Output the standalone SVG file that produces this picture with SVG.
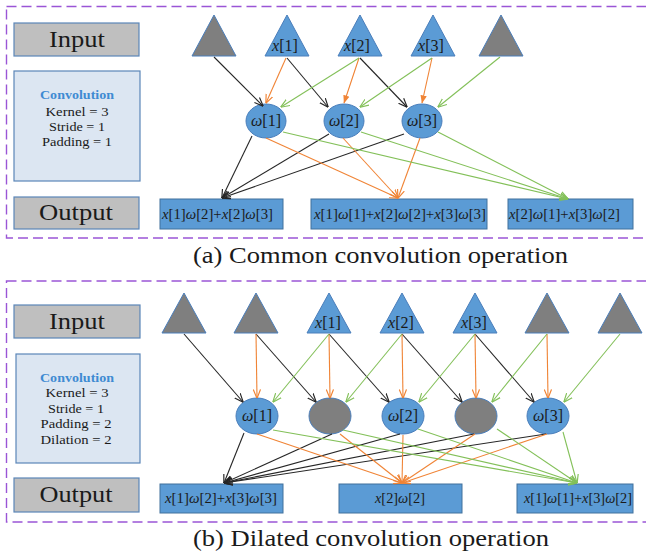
<svg xmlns="http://www.w3.org/2000/svg" width="646" height="554" viewBox="0 0 646 554">
  <style>
    text { font-family: "Liberation Serif", "Times New Roman", serif; fill: #1a1a1a; }
    .frame { fill: none; stroke: #9a55d6; stroke-width: 1.4; stroke-dasharray: 10 5; }
    .label-box { fill: #bfbfbf; stroke: #5b86b8; stroke-width: 1.2; }
    .param-box { fill: #dce6f2; stroke: #5b86b8; stroke-width: 1.2; }
    .big { font-size: 23px; }
    .param { font-size: 13.5px; }
    .param-title { font-size: 13.5px; font-weight: bold; fill: #3f8bd2; }
    .tri-x { fill: #5b9bd5; stroke: #4a7ebb; stroke-width: 1; }
    .tri-pad { fill: #7f7f7f; stroke: #4a7ebb; stroke-width: 1; }
    .node-w { fill: #5b9bd5; stroke: #4a7ebb; stroke-width: 1; }
    .node-pad { fill: #7f7f7f; stroke: #4a7ebb; stroke-width: 1; }
    .out { fill: #5b9bd5; stroke: #41719c; stroke-width: 1; }
    .sym { font-size: 16px; }
    .expr { font-size: 14.5px; }
    .i { font-style: italic; }
    .caption { font-size: 23px; }
    .k { stroke: #262626; stroke-width: 1.1; fill: none; marker-end: url(#ak); }
    .o { stroke: #f08436; stroke-width: 1.1; fill: none; marker-end: url(#ao); }
    .of { stroke: #f08436; stroke-width: 1.1; fill: none; marker-end: url(#aof); }
    .g { stroke: #83c059; stroke-width: 1.1; fill: none; marker-end: url(#ag); }
  </style>
  <defs>
    <marker id="ak" viewBox="0 0 10 10" refX="9.5" refY="5" markerWidth="9" markerHeight="9" markerUnits="userSpaceOnUse" orient="auto">
      <path d="M0,1 L10,5 L0,9" fill="none" stroke="#262626" stroke-width="1.3"/>
    </marker>
    <marker id="ao" viewBox="0 0 10 10" refX="9.5" refY="5" markerWidth="9" markerHeight="9" markerUnits="userSpaceOnUse" orient="auto">
      <path d="M0,1 L10,5 L0,9" fill="none" stroke="#f08436" stroke-width="1.3"/>
    </marker>
    <marker id="aof" viewBox="0 0 10 10" refX="9.5" refY="5" markerWidth="8" markerHeight="8" markerUnits="userSpaceOnUse" orient="auto">
      <path d="M0,1 L10,5 L0,9 Z" fill="#f08436"/>
    </marker>
    <marker id="ag" viewBox="0 0 10 10" refX="9.5" refY="5" markerWidth="9" markerHeight="9" markerUnits="userSpaceOnUse" orient="auto">
      <path d="M0,1 L10,5 L0,9" fill="none" stroke="#83c059" stroke-width="1.3"/>
    </marker>
  </defs>

  <!-- ===== (a) common convolution ===== -->
  <rect class="frame" x="6.5" y="6.5" width="645" height="231.5"/>

  <g id="a-input-label">
    <rect class="label-box" x="14" y="23" width="125" height="33"/>
    <text class="big" x="77" y="47" text-anchor="middle" textLength="56" lengthAdjust="spacingAndGlyphs">Input</text>
  </g>
  <g id="a-params">
    <rect class="param-box" x="14" y="71" width="126" height="110"/>
    <text class="param-title" x="77" y="99" text-anchor="middle" textLength="74" lengthAdjust="spacingAndGlyphs">Convolution</text>
    <text class="param" x="77" y="116" text-anchor="middle" textLength="63" lengthAdjust="spacingAndGlyphs">Kernel = 3</text>
    <text class="param" x="77" y="131" text-anchor="middle" textLength="56" lengthAdjust="spacingAndGlyphs">Stride = 1</text>
    <text class="param" x="77" y="146" text-anchor="middle" textLength="70" lengthAdjust="spacingAndGlyphs">Padding = 1</text>
  </g>
  <g id="a-output-label">
    <rect class="label-box" x="14" y="197" width="125" height="32"/>
    <text class="big" x="76" y="220" text-anchor="middle" textLength="74" lengthAdjust="spacingAndGlyphs">Output</text>
  </g>

  <!-- input cells -->
  <g id="a-pad-left"><polygon class="tri-pad" points="214,15 192,56 236,56"/></g>
  <g id="a-x1"><polygon class="tri-x" points="287,15 265,56 309,56"/>
    <text class="sym" x="285" y="51" text-anchor="middle"><tspan class="i">x</tspan>[1]</text></g>
  <g id="a-x2"><polygon class="tri-x" points="360,15 338,56 382,56"/>
    <text class="sym" x="357" y="51" text-anchor="middle"><tspan class="i">x</tspan>[2]</text></g>
  <g id="a-x3"><polygon class="tri-x" points="433,15 411,56 455,56"/>
    <text class="sym" x="431" y="51" text-anchor="middle"><tspan class="i">x</tspan>[3]</text></g>
  <g id="a-pad-right"><polygon class="tri-pad" points="501,15 479,56 523,56"/></g>

  <!-- kernel weights -->
  <g id="a-w1"><ellipse class="node-w" cx="266" cy="121" rx="20" ry="17"/>
    <text class="sym" x="266" y="126" text-anchor="middle"><tspan class="i">ω</tspan>[1]</text></g>
  <g id="a-w2"><ellipse class="node-w" cx="344" cy="121" rx="20" ry="17"/>
    <text class="sym" x="344" y="126" text-anchor="middle"><tspan class="i">ω</tspan>[2]</text></g>
  <g id="a-w3"><ellipse class="node-w" cx="422" cy="121" rx="20" ry="17"/>
    <text class="sym" x="422" y="126" text-anchor="middle"><tspan class="i">ω</tspan>[3]</text></g>

  <!-- outputs -->
  <g id="a-y1"><rect class="out" x="160" y="199" width="123" height="30"/>
    <text class="expr" x="162" y="219" textLength="111" lengthAdjust="spacingAndGlyphs"><tspan class="i">x</tspan>[1]<tspan class="i">ω</tspan>[2]+<tspan class="i">x</tspan>[2]<tspan class="i">ω</tspan>[3]</text></g>
  <g id="a-y2"><rect class="out" x="311" y="199" width="176" height="30"/>
    <text class="expr" x="314" y="219" textLength="172" lengthAdjust="spacingAndGlyphs"><tspan class="i">x</tspan>[1]<tspan class="i">ω</tspan>[1]+<tspan class="i">x</tspan>[2]<tspan class="i">ω</tspan>[2]+<tspan class="i">x</tspan>[3]<tspan class="i">ω</tspan>[3]</text></g>
  <g id="a-y3"><rect class="out" x="508" y="199" width="125" height="30"/>
    <text class="expr" x="509" y="219" textLength="111" lengthAdjust="spacingAndGlyphs"><tspan class="i">x</tspan>[2]<tspan class="i">ω</tspan>[1]+<tspan class="i">x</tspan>[3]<tspan class="i">ω</tspan>[2]</text></g>

  <g id="a-connectors">
    <!-- inputs to weights -->
    <line class="k" x1="214" y1="57" x2="263" y2="106"/>
    <line class="k" x1="287" y1="58" x2="328" y2="107"/>
    <line class="k" x1="360" y1="58" x2="407" y2="107"/>
    <line class="o" x1="286" y1="58" x2="266" y2="103"/>
    <line class="of" x1="359" y1="58" x2="344" y2="103"/>
    <line class="of" x1="432" y1="58" x2="422" y2="103"/>
    <line class="g" x1="359" y1="58" x2="281" y2="107"/>
    <line class="g" x1="432" y1="58" x2="360" y2="107"/>
    <line class="g" x1="500" y1="57" x2="438" y2="107"/>
    <!-- weights to outputs -->
    <line class="k" x1="252" y1="136" x2="222" y2="198"/>
    <line class="k" x1="329" y1="134" x2="222" y2="198"/>
    <line class="k" x1="404" y1="134" x2="222" y2="198"/>
    <line class="o" x1="266" y1="138" x2="398" y2="198"/>
    <line class="o" x1="343" y1="138" x2="398" y2="198"/>
    <line class="o" x1="420" y1="138" x2="398" y2="198"/>
    <line class="g" x1="283" y1="132" x2="568" y2="199"/>
    <line class="g" x1="361" y1="132" x2="568" y2="199"/>
    <line class="g" x1="438" y1="132" x2="568" y2="199"/>
  </g>

  <text class="caption" x="193" y="263" textLength="375" lengthAdjust="spacingAndGlyphs">(a) Common convolution operation</text>

  <!-- ===== (b) dilated convolution ===== -->
  <rect class="frame" x="6.5" y="281" width="645" height="241"/>

  <g id="b-input-label">
    <rect class="label-box" x="14" y="305" width="126" height="33"/>
    <text class="big" x="77" y="329" text-anchor="middle" textLength="56" lengthAdjust="spacingAndGlyphs">Input</text>
  </g>
  <g id="b-params">
    <rect class="param-box" x="16" y="354" width="124" height="109"/>
    <text class="param-title" x="77" y="382" text-anchor="middle" textLength="74" lengthAdjust="spacingAndGlyphs">Convolution</text>
    <text class="param" x="77" y="397" text-anchor="middle" textLength="63" lengthAdjust="spacingAndGlyphs">Kernel = 3</text>
    <text class="param" x="76" y="413" text-anchor="middle" textLength="56" lengthAdjust="spacingAndGlyphs">Stride = 1</text>
    <text class="param" x="76" y="428" text-anchor="middle" textLength="71" lengthAdjust="spacingAndGlyphs">Padding = 2</text>
    <text class="param" x="76" y="444" text-anchor="middle" textLength="71" lengthAdjust="spacingAndGlyphs">Dilation = 2</text>
  </g>
  <g id="b-output-label">
    <rect class="label-box" x="14" y="478" width="125" height="34"/>
    <text class="big" x="76" y="502" text-anchor="middle" textLength="73" lengthAdjust="spacingAndGlyphs">Output</text>
  </g>

  <!-- input cells (two padding cells on each side) -->
  <g id="b-pad-l2"><polygon class="tri-pad" points="184,293 162,333 206,333"/></g>
  <g id="b-pad-l1"><polygon class="tri-pad" points="256,293 234,333 278,333"/></g>
  <g id="b-x1"><polygon class="tri-x" points="329,293 307,333 351,333"/>
    <text class="sym" x="328" y="328" text-anchor="middle"><tspan class="i">x</tspan>[1]</text></g>
  <g id="b-x2"><polygon class="tri-x" points="402,293 380,333 424,333"/>
    <text class="sym" x="401" y="328" text-anchor="middle"><tspan class="i">x</tspan>[2]</text></g>
  <g id="b-x3"><polygon class="tri-x" points="475,293 453,333 497,333"/>
    <text class="sym" x="474" y="328" text-anchor="middle"><tspan class="i">x</tspan>[3]</text></g>
  <g id="b-pad-r1"><polygon class="tri-pad" points="547,293 525,333 569,333"/></g>
  <g id="b-pad-r2"><polygon class="tri-pad" points="620,293 598,333 642,333"/></g>

  <!-- dilated kernel: weights with holes -->
  <g id="b-w1"><ellipse class="node-w" cx="257" cy="416" rx="21" ry="18"/>
    <text class="sym" x="257" y="421" text-anchor="middle"><tspan class="i">ω</tspan>[1]</text></g>
  <g id="b-hole1"><ellipse class="node-pad" cx="330" cy="416" rx="21" ry="18"/></g>
  <g id="b-w2"><ellipse class="node-w" cx="403" cy="416" rx="21" ry="18"/>
    <text class="sym" x="403" y="421" text-anchor="middle"><tspan class="i">ω</tspan>[2]</text></g>
  <g id="b-hole2"><ellipse class="node-pad" cx="476" cy="416" rx="21" ry="18"/></g>
  <g id="b-w3"><ellipse class="node-w" cx="548" cy="416" rx="21" ry="18"/>
    <text class="sym" x="548" y="421" text-anchor="middle"><tspan class="i">ω</tspan>[3]</text></g>

  <!-- outputs -->
  <g id="b-y1"><rect class="out" x="160" y="484" width="123" height="29"/>
    <text class="expr" x="165" y="503" textLength="112" lengthAdjust="spacingAndGlyphs"><tspan class="i">x</tspan>[1]<tspan class="i">ω</tspan>[2]+<tspan class="i">x</tspan>[3]<tspan class="i">ω</tspan>[3]</text></g>
  <g id="b-y2"><rect class="out" x="339" y="484" width="123" height="29"/>
    <text class="expr" x="375" y="503" textLength="50" lengthAdjust="spacingAndGlyphs"><tspan class="i">x</tspan>[2]<tspan class="i">ω</tspan>[2]</text></g>
  <g id="b-y3"><rect class="out" x="517" y="484" width="116" height="29"/>
    <text class="expr" x="524" y="503" textLength="108" lengthAdjust="spacingAndGlyphs"><tspan class="i">x</tspan>[1]<tspan class="i">ω</tspan>[1]+<tspan class="i">x</tspan>[3]<tspan class="i">ω</tspan>[2]</text></g>

  <g id="b-connectors">
    <!-- inputs to kernel taps -->
    <line class="k" x1="184" y1="334" x2="243" y2="402"/>
    <line class="k" x1="256" y1="334" x2="316" y2="402"/>
    <line class="k" x1="329" y1="334" x2="389" y2="402"/>
    <line class="k" x1="402" y1="334" x2="462" y2="402"/>
    <line class="k" x1="475" y1="334" x2="534" y2="402"/>
    <line class="o" x1="256" y1="334" x2="257" y2="398"/>
    <line class="o" x1="329" y1="334" x2="330" y2="398"/>
    <line class="o" x1="402" y1="334" x2="403" y2="398"/>
    <line class="o" x1="475" y1="334" x2="476" y2="398"/>
    <line class="o" x1="547" y1="334" x2="548" y2="398"/>
    <line class="g" x1="329" y1="334" x2="273" y2="402"/>
    <line class="g" x1="402" y1="334" x2="346" y2="402"/>
    <line class="g" x1="475" y1="334" x2="419" y2="402"/>
    <line class="g" x1="547" y1="334" x2="492" y2="402"/>
    <line class="g" x1="620" y1="334" x2="564" y2="402"/>
    <!-- kernel taps to outputs -->
    <line class="k" x1="244" y1="433" x2="224" y2="483"/>
    <line class="k" x1="332" y1="434" x2="224" y2="483"/>
    <line class="k" x1="400" y1="434" x2="224" y2="483"/>
    <line class="k" x1="474" y1="434" x2="224" y2="483"/>
    <line class="k" x1="546" y1="434" x2="224" y2="483"/>
    <line class="o" x1="257" y1="434" x2="402" y2="483"/>
    <line class="o" x1="340" y1="434" x2="402" y2="483"/>
    <line class="o" x1="403" y1="435" x2="402" y2="483"/>
    <line class="o" x1="475" y1="434" x2="402" y2="483"/>
    <line class="o" x1="547" y1="434" x2="402" y2="483"/>
    <line class="g" x1="273" y1="430" x2="577" y2="483"/>
    <line class="g" x1="343" y1="430" x2="577" y2="483"/>
    <line class="g" x1="418" y1="429" x2="577" y2="483"/>
    <line class="g" x1="497" y1="429" x2="577" y2="483"/>
    <line class="g" x1="563" y1="432" x2="577" y2="483"/>
  </g>

  <text class="caption" x="193" y="546" textLength="356" lengthAdjust="spacingAndGlyphs">(b) Dilated convolution operation</text>
</svg>
